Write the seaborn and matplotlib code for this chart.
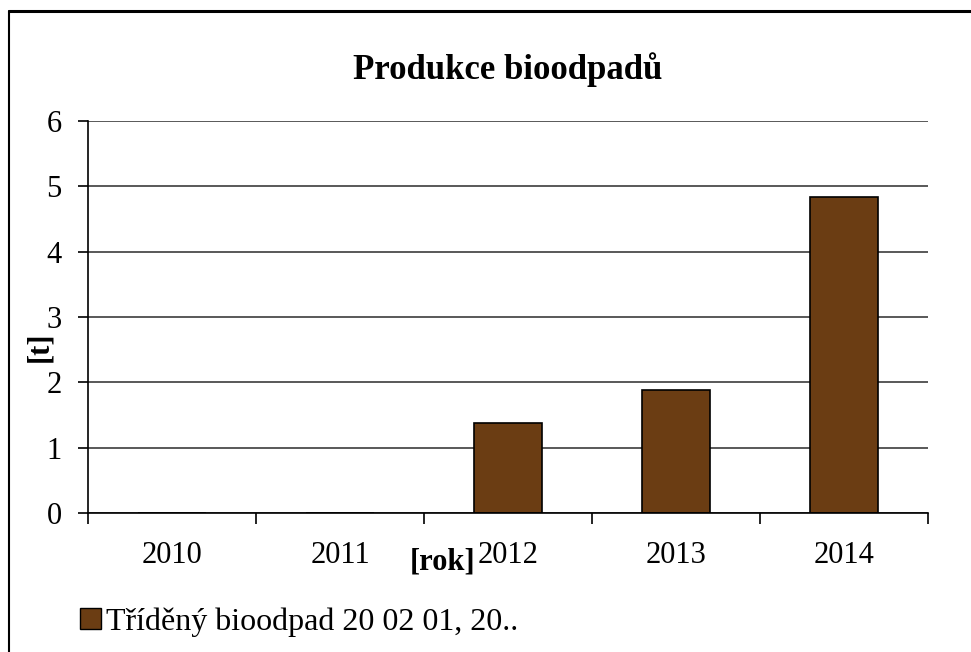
import matplotlib
matplotlib.use("Agg")
import matplotlib.pyplot as plt
from matplotlib.lines import Line2D
from matplotlib.patches import Patch
import seaborn as sns

# data
years = ["2010", "2011", "2012", "2013", "2014"]
tons = [0, 0, 1.38, 1.88, 4.83]
series_label = "Tříděný bioodpad 20 02 01, 20.."
bar_color = "#6B3D13"

sns.set_theme(style="white")
plt.rcParams["font.family"] = ["Liberation Serif", "DejaVu Serif"]
plt.rcParams["text.color"] = "black"
plt.rcParams["axes.labelcolor"] = "black"
plt.rcParams["xtick.color"] = "black"
plt.rcParams["ytick.color"] = "black"

fig = plt.figure(figsize=(9.71, 6.52), dpi=100)
ax = fig.add_axes([88 / 971, 139 / 652, 840 / 971, 392 / 652])

sns.barplot(x=years, y=tons, color=bar_color, width=0.405, saturation=1,
            edgecolor="black", linewidth=1.2, ax=ax)

ax.set_ylim(0, 6)
ax.set_xlim(-0.5, 4.5)
ax.set_yticks(range(0, 7))
ax.yaxis.grid(True, color="#3c3c3c", linewidth=1.2)
ax.set_axisbelow(True)

for side in ["top", "right"]:
    ax.spines[side].set_visible(False)
for side in ["left", "bottom"]:
    ax.spines[side].set_color("black")
    ax.spines[side].set_linewidth(1.2)

# category boundary ticks on x, outward ticks on y
ax.set_xticks([i - 0.5 for i in range(6)], minor=True)
ax.tick_params(axis="x", which="minor", bottom=True, length=8, width=1.2,
               color="black", direction="out")
ax.tick_params(axis="x", which="major", bottom=True, length=0, pad=20, labelsize=22,
               labelcolor="black")
ax.tick_params(axis="y", which="major", left=True, length=7, width=1.2, color="black",
               direction="out", pad=12, labelsize=22, labelcolor="black")

ax.set_title("Produkce bioodpadů", fontsize=25, fontweight="bold", pad=30, color="black")
ax.set_xlabel("[rok]", fontsize=22, fontweight="bold")
ax.xaxis.set_label_coords(0.4226, -0.088)
ax.set_ylabel("[t]", fontsize=22, fontweight="bold")
ax.yaxis.set_label_coords(-0.04, 0.425)

handle = Patch(facecolor=bar_color, edgecolor="black", linewidth=1.0)
fig.legend([handle], [series_label], loc="center left",
           bbox_to_anchor=(80 / 971, 1 - 622 / 652), frameon=False,
           fontsize=23, handlelength=0.65, handleheight=0.65, handletextpad=0.15,
           borderpad=0, borderaxespad=0, labelcolor="black")

# outer chart frame (open at right and bottom, as cropped in the source)
fig.add_artist(Line2D([8.5 / 971, 8.5 / 971], [0, 1 - 11 / 652],
                      transform=fig.transFigure, color="black", linewidth=1.5))
fig.add_artist(Line2D([8.5 / 971, 1], [1 - 11 / 652, 1 - 11 / 652],
                      transform=fig.transFigure, color="black", linewidth=2.2))

fig.savefig("out.png", dpi=100)
